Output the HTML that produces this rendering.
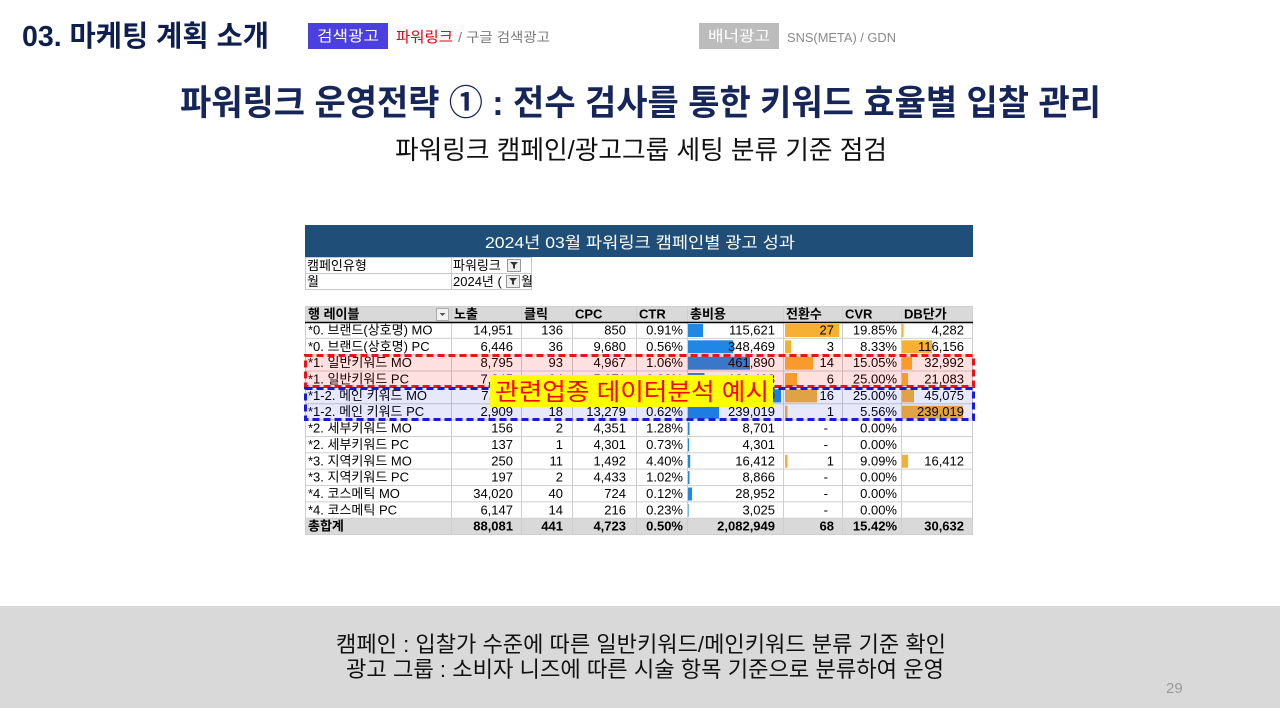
<!DOCTYPE html>
<html><head><meta charset="utf-8"><style>
html,body{margin:0;padding:0;background:#fff;}
svg{display:block;}
text{font-family:"Liberation Sans","Noto Sans CJK KR",sans-serif;}
.k{font-family:"Liberation Sans","Noto Sans CJK KR",sans-serif;}
.t{font-size:13px;fill:#000;}
.n{font-size:13px;fill:#000;text-anchor:end;}
.b{font-weight:bold;}
</style></head><body>
<svg width="1280" height="720" viewBox="0 0 1280 720" xmlns="http://www.w3.org/2000/svg">
<rect x="0" y="0" width="1280" height="720" fill="#fff"/>

<!-- top header -->
<text x="22" y="46" font-size="29" font-weight="bold" fill="#0e1f4d" textLength="247" lengthAdjust="spacingAndGlyphs">03. 마케팅 계획 소개</text>
<rect x="308" y="23" width="80" height="26" fill="#4c3fe0"/>
<text x="348" y="41" font-size="15" fill="#fff" text-anchor="middle" textLength="62" lengthAdjust="spacingAndGlyphs">검색광고</text>
<text x="396" y="42" font-size="15" fill="#e60012" textLength="57" lengthAdjust="spacingAndGlyphs">파워링크</text>
<text x="458" y="42" font-size="13.5" fill="#7a7a7a" textLength="92" lengthAdjust="spacingAndGlyphs">/ 구글 검색광고</text>
<rect x="699" y="23" width="80" height="26" fill="#bcbcbc"/>
<text x="739" y="41" font-size="15" fill="#fff" text-anchor="middle" textLength="62" lengthAdjust="spacingAndGlyphs">배너광고</text>
<text x="787" y="42" font-size="13" fill="#8a8a8a" textLength="109" lengthAdjust="spacingAndGlyphs">SNS(META)  / GDN</text>

<!-- titles -->
<text x="180" y="115" font-size="35" font-weight="bold" fill="#16265a" textLength="921" lengthAdjust="spacingAndGlyphs">파워링크 운영전략 ① : 전수 검사를 통한 키워드 효율별 입찰 관리</text>
<text x="395" y="159" font-size="26" fill="#111" textLength="492" lengthAdjust="spacingAndGlyphs">파워링크 캠페인/광고그룹 세팅 분류 기준 점검</text>

<!-- table title bar -->
<rect x="305" y="225" width="668" height="32" fill="#1f4e78"/>
<text x="640" y="248" font-size="16" fill="#fff" text-anchor="middle" textLength="310" lengthAdjust="spacingAndGlyphs">2024년 03월 파워링크 캠페인별 광고 성과</text>

<!-- filter rows -->
<g stroke="#c8c8c8" stroke-width="1" fill="none">
<rect x="305.5" y="257.5" width="146" height="16"/>
<rect x="451.5" y="257.5" width="80" height="16"/>
<rect x="305.5" y="273.5" width="146" height="16"/>
<rect x="451.5" y="273.5" width="80" height="16"/>
</g>
<text class="t" x="307" y="270">캠페인유형</text>
<text class="t" x="453" y="270">파워링크</text>
<text class="t" x="307" y="286">월</text>
<text class="t" x="453" y="286">2024년 (</text>
<text class="t" x="521" y="286">월</text>
<g>
<rect x="507.5" y="259.5" width="13" height="12" fill="#eee" stroke="#999"/>
<path d="M510 262 h8 l-3 3 v4 l-2 -1 v-3z" fill="#333"/>
<rect x="506.5" y="275.5" width="13" height="12" fill="#eee" stroke="#999"/>
<path d="M509 278 h8 l-3 3 v4 l-2 -1 v-3z" fill="#333"/>
</g>

<!-- header row -->
<rect x="305" y="306" width="668" height="16" fill="#d9d9d9"/>
<!-- total row -->
<rect x="305" y="518.2" width="668" height="16.4" fill="#d9d9d9"/>

<!-- data bars 총비용 -->
<g fill="#1f88e5">
<rect x="688" y="324" width="15" height="13"/>
<rect x="688" y="340.3" width="45" height="13"/>
<rect x="688" y="356.7" width="62" height="13"/>
<rect x="688" y="373" width="16.5" height="13"/>
<rect x="688" y="389.4" width="93" height="13"/>
<rect x="688" y="405.7" width="31" height="13"/>
<rect x="688" y="422.1" width="1.5" height="13"/>
<rect x="688" y="438.4" width="1" height="13"/>
<rect x="688" y="454.8" width="2.2" height="13"/>
<rect x="688" y="471.1" width="1.5" height="13"/>
<rect x="688" y="487.5" width="4" height="13"/>
<rect x="688" y="503.8" width="0.6" height="13"/>
</g>
<!-- data bars 전환수 -->
<g fill="#f6b134">
<rect x="785" y="324" width="54" height="13"/>
<rect x="785" y="340.3" width="6" height="13"/>
<rect x="785" y="356.7" width="28" height="13"/>
<rect x="785" y="373" width="12" height="13"/>
<rect x="785" y="389.4" width="32" height="13"/>
<rect x="785" y="405.7" width="2.5" height="13"/>
<rect x="785" y="454.8" width="2.5" height="13"/>
</g>
<!-- data bars DB단가 -->
<g fill="#f6b134">
<rect x="902" y="324" width="1.5" height="13"/>
<rect x="902" y="340.3" width="30" height="13"/>
<rect x="902" y="356.7" width="10" height="13"/>
<rect x="902" y="373" width="6" height="13"/>
<rect x="902" y="389.4" width="12" height="13"/>
<rect x="902" y="405.7" width="61" height="13"/>
<rect x="902" y="454.8" width="6" height="13"/>
</g>

<!-- grid lines -->
<g stroke="#cfcfcf" stroke-width="1">
<line x1="305" y1="306.5" x2="973" y2="306.5"/>
<line x1="305" y1="338.35" x2="973" y2="338.35"/>
<line x1="305" y1="354.7" x2="973" y2="354.7"/>
<line x1="305" y1="371.05" x2="973" y2="371.05"/>
<line x1="305" y1="387.4" x2="973" y2="387.4"/>
<line x1="305" y1="403.75" x2="973" y2="403.75"/>
<line x1="305" y1="420.1" x2="973" y2="420.1"/>
<line x1="305" y1="436.45" x2="973" y2="436.45"/>
<line x1="305" y1="452.8" x2="973" y2="452.8"/>
<line x1="305" y1="469.15" x2="973" y2="469.15"/>
<line x1="305" y1="485.5" x2="973" y2="485.5"/>
<line x1="305" y1="501.85" x2="973" y2="501.85"/>
<line x1="305" y1="518.2" x2="973" y2="518.2"/>
<line x1="305" y1="534.5" x2="973" y2="534.5"/>
<line x1="305.5" y1="306" x2="305.5" y2="535"/>
<line x1="451.5" y1="306" x2="451.5" y2="535"/>
<line x1="521.5" y1="306" x2="521.5" y2="535"/>
<line x1="572.5" y1="306" x2="572.5" y2="535"/>
<line x1="636.5" y1="306" x2="636.5" y2="535"/>
<line x1="687.5" y1="306" x2="687.5" y2="535"/>
<line x1="783.5" y1="306" x2="783.5" y2="535"/>
<line x1="842.5" y1="306" x2="842.5" y2="535"/>
<line x1="901.5" y1="306" x2="901.5" y2="535"/>
<line x1="972.5" y1="306" x2="972.5" y2="535"/>
</g>
<line x1="305" y1="322.5" x2="973" y2="322.5" stroke="#000" stroke-width="1.6"/>

<!-- header texts -->
<g class="b">
<text class="t b" x="308" y="318.5">행 레이블</text>
<text class="t b" x="454" y="318.5">노출</text>
<text class="t b" x="524" y="318.5">클릭</text>
<text class="t b" x="575" y="318.5">CPC</text>
<text class="t b" x="639" y="318.5">CTR</text>
<text class="t b" x="690" y="318.5">총비용</text>
<text class="t b" x="786" y="318.5">전환수</text>
<text class="t b" x="845" y="318.5">CVR</text>
<text class="t b" x="904" y="318.5">DB단가</text>
</g>
<rect x="436.5" y="308.5" width="12" height="12" fill="#f2f2f2" stroke="#aaa"/>
<path d="M439.5 313 h6 l-3 3z" fill="#555"/>

<!-- rows -->
<g>
<!-- r0 -->
<text class="t" x="308" y="334.5">*0. 브랜드(상호명) MO</text>
<text class="n" x="513" y="334.5">14,951</text><text class="n" x="563" y="334.5">136</text><text class="n" x="626" y="334.5">850</text><text class="n" x="683" y="334.5">0.91%</text><text class="n" x="775" y="334.5">115,621</text><text class="n" x="834" y="334.5">27</text><text class="n" x="897" y="334.5">19.85%</text><text class="n" x="964" y="334.5">4,282</text>
<!-- r1 -->
<text class="t" x="308" y="350.9">*0. 브랜드(상호명) PC</text>
<text class="n" x="513" y="350.9">6,446</text><text class="n" x="563" y="350.9">36</text><text class="n" x="626" y="350.9">9,680</text><text class="n" x="683" y="350.9">0.56%</text><text class="n" x="775" y="350.9">348,469</text><text class="n" x="834" y="350.9">3</text><text class="n" x="897" y="350.9">8.33%</text><text class="n" x="964" y="350.9">116,156</text>
<!-- r2 -->
<text class="t" x="308" y="367.2">*1. 일반키워드 MO</text>
<text class="n" x="513" y="367.2">8,795</text><text class="n" x="563" y="367.2">93</text><text class="n" x="626" y="367.2">4,967</text><text class="n" x="683" y="367.2">1.06%</text><text class="n" x="775" y="367.2">461,890</text><text class="n" x="834" y="367.2">14</text><text class="n" x="897" y="367.2">15.05%</text><text class="n" x="964" y="367.2">32,992</text>
<!-- r3 -->
<text class="t" x="308" y="383.5">*1. 일반키워드 PC</text>
<text class="n" x="513" y="383.5">7,245</text><text class="n" x="563" y="383.5">24</text><text class="n" x="626" y="383.5">5,271</text><text class="n" x="683" y="383.5">0.33%</text><text class="n" x="775" y="383.5">126,498</text><text class="n" x="834" y="383.5">6</text><text class="n" x="897" y="383.5">25.00%</text><text class="n" x="964" y="383.5">21,083</text>
<!-- r4 -->
<text class="t" x="308" y="399.9">*1-2. 메인 키워드 MO</text>
<text class="n" x="513" y="399.9">7,110</text><text class="n" x="563" y="399.9">64</text><text class="n" x="626" y="399.9">11,269</text><text class="n" x="683" y="399.9">0.90%</text><text class="n" x="775" y="399.9">721,200</text><text class="n" x="834" y="399.9">16</text><text class="n" x="897" y="399.9">25.00%</text><text class="n" x="964" y="399.9">45,075</text>
<!-- r5 -->
<text class="t" x="308" y="416.2">*1-2. 메인 키워드 PC</text>
<text class="n" x="513" y="416.2">2,909</text><text class="n" x="563" y="416.2">18</text><text class="n" x="626" y="416.2">13,279</text><text class="n" x="683" y="416.2">0.62%</text><text class="n" x="775" y="416.2">239,019</text><text class="n" x="834" y="416.2">1</text><text class="n" x="897" y="416.2">5.56%</text><text class="n" x="964" y="416.2">239,019</text>
<!-- r6 -->
<text class="t" x="308" y="432.6">*2. 세부키워드 MO</text>
<text class="n" x="513" y="432.6">156</text><text class="n" x="563" y="432.6">2</text><text class="n" x="626" y="432.6">4,351</text><text class="n" x="683" y="432.6">1.28%</text><text class="n" x="775" y="432.6">8,701</text><text class="n" x="828" y="432.6">-</text><text class="n" x="897" y="432.6">0.00%</text>
<!-- r7 -->
<text class="t" x="308" y="448.9">*2. 세부키워드 PC</text>
<text class="n" x="513" y="448.9">137</text><text class="n" x="563" y="448.9">1</text><text class="n" x="626" y="448.9">4,301</text><text class="n" x="683" y="448.9">0.73%</text><text class="n" x="775" y="448.9">4,301</text><text class="n" x="828" y="448.9">-</text><text class="n" x="897" y="448.9">0.00%</text>
<!-- r8 -->
<text class="t" x="308" y="465.3">*3. 지역키워드 MO</text>
<text class="n" x="513" y="465.3">250</text><text class="n" x="563" y="465.3">11</text><text class="n" x="626" y="465.3">1,492</text><text class="n" x="683" y="465.3">4.40%</text><text class="n" x="775" y="465.3">16,412</text><text class="n" x="834" y="465.3">1</text><text class="n" x="897" y="465.3">9.09%</text><text class="n" x="964" y="465.3">16,412</text>
<!-- r9 -->
<text class="t" x="308" y="481.6">*3. 지역키워드 PC</text>
<text class="n" x="513" y="481.6">197</text><text class="n" x="563" y="481.6">2</text><text class="n" x="626" y="481.6">4,433</text><text class="n" x="683" y="481.6">1.02%</text><text class="n" x="775" y="481.6">8,866</text><text class="n" x="828" y="481.6">-</text><text class="n" x="897" y="481.6">0.00%</text>
<!-- r10 -->
<text class="t" x="308" y="498">*4. 코스메틱 MO</text>
<text class="n" x="513" y="498">34,020</text><text class="n" x="563" y="498">40</text><text class="n" x="626" y="498">724</text><text class="n" x="683" y="498">0.12%</text><text class="n" x="775" y="498">28,952</text><text class="n" x="828" y="498">-</text><text class="n" x="897" y="498">0.00%</text>
<!-- r11 -->
<text class="t" x="308" y="514.3">*4. 코스메틱 PC</text>
<text class="n" x="513" y="514.3">6,147</text><text class="n" x="563" y="514.3">14</text><text class="n" x="626" y="514.3">216</text><text class="n" x="683" y="514.3">0.23%</text><text class="n" x="775" y="514.3">3,025</text><text class="n" x="828" y="514.3">-</text><text class="n" x="897" y="514.3">0.00%</text>
<!-- total -->
<text class="t b" x="308" y="530.7">총합계</text>
<text class="n b" x="513" y="530.7">88,081</text><text class="n b" x="563" y="530.7">441</text><text class="n b" x="626" y="530.7">4,723</text><text class="n b" x="683" y="530.7">0.50%</text><text class="n b" x="775" y="530.7">2,082,949</text><text class="n b" x="834" y="530.7">68</text><text class="n b" x="897" y="530.7">15.42%</text><text class="n b" x="964" y="530.7">30,632</text>
</g>

<!-- overlays -->
<rect x="305" y="354.7" width="668" height="32.7" fill="rgba(255,0,0,0.12)"/>
<rect x="305" y="387.4" width="668" height="32.7" fill="rgba(30,30,220,0.1)"/>
<rect x="305.5" y="355.5" width="668" height="31" fill="none" stroke="#e8141b" stroke-width="3" stroke-dasharray="7 4"/>
<rect x="305.5" y="388.5" width="668" height="31" fill="none" stroke="#1a1adc" stroke-width="3" stroke-dasharray="7 4"/>

<!-- yellow callout -->
<rect x="490" y="375" width="283" height="32" fill="#ffff00"/>
<text x="495" y="400" font-size="24" fill="#ff0000" textLength="274" lengthAdjust="spacingAndGlyphs">관련업종 데이터분석 예시</text>

<!-- bottom band -->
<rect x="0" y="606" width="1280" height="102" fill="#d9d9d9"/>
<text x="336" y="652" font-size="22" fill="#111" textLength="610" lengthAdjust="spacingAndGlyphs">캠페인 : 입찰가 수준에 따른 일반키워드/메인키워드  분류 기준 확인</text>
<text x="346" y="677" font-size="22" fill="#111" textLength="598" lengthAdjust="spacingAndGlyphs">광고 그룹 : 소비자 니즈에 따른 시술 항목 기준으로 분류하여 운영</text>
<text x="1166" y="693" font-size="15" fill="#9a9a9a">29</text>
</svg>
</body></html>
